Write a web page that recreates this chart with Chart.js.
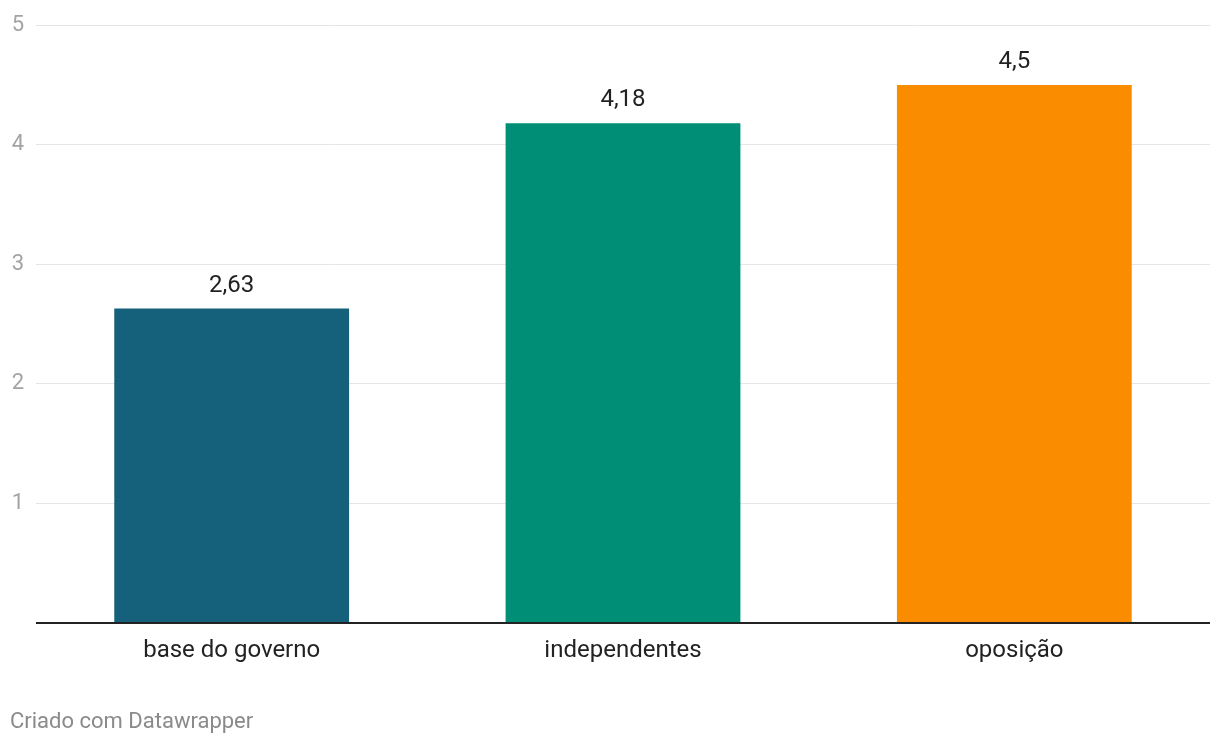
<!DOCTYPE html>
<html>
<head>
<meta charset="utf-8">
<script src="https://cdn.jsdelivr.net/npm/chart.js@4/dist/chart.umd.min.js"></script>
<style>
  html, body { margin: 0; padding: 0; background: #fff; }
  #wrap { position: relative; width: 1220px; height: 744px; }
  #footer {
    position: absolute; left: 10px; top: 708px;
    font-family: Roboto, sans-serif; font-size: 22px; color: #8a8a8a;
  }
</style>
</head>
<body>
<div id="wrap">
  <canvas id="chart" width="1220" height="744"></canvas>
  <div id="footer">Criado com Datawrapper</div>
</div>
<script>
const categories = ["base do governo", "independentes", "oposição"];
const values = [2.63, 4.18, 4.5];
const barColors = ["#15607a", "#008f76", "#fa8c00"];
const yTicks = [0, 1, 2, 3, 4, 5];

// value labels above each bar, comma decimals
const valueLabels = {
  id: "valueLabels",
  afterDatasetsDraw(chart) {
    const ctx = chart.ctx;
    const meta = chart.getDatasetMeta(0);
    ctx.save();
    ctx.font = "24px Roboto, sans-serif";
    ctx.fillStyle = "#222";
    ctx.textAlign = "center";
    ctx.textBaseline = "middle";
    meta.data.forEach((bar, i) => {
      const txt = String(values[i]).replace(".", ",");
      ctx.fillText(txt, bar.x, bar.y - 23);
    });
    ctx.restore();
  }
};

new Chart(document.getElementById("chart"), {
  type: "bar",
  data: {
    labels: categories,
    datasets: [{
      data: values,
      backgroundColor: barColors,
      categoryPercentage: 0.6,
      barPercentage: 1
    }]
  },
  options: {
    responsive: false,
    animation: false,
    layout: { padding: { top: 24, right: 10, left: 0, bottom: 0 } },
    plugins: { legend: { display: false }, tooltip: { enabled: false } },
    scales: {
      x: {
        grid: { display: false },
        border: { display: false },
        ticks: { color: "#222", font: { family: "Roboto", size: 24 }, padding: 6 },
        afterFit(scale) { scale.height = 744 - 623; }
      },
      y: {
        min: 0, max: 5,
        afterBuildTicks(scale) { scale.ticks = yTicks.map(v => ({ value: v })); },
        afterFit(scale) { scale.width = 36; },
        border: { display: false },
        grid: {
          drawTicks: false,
          color: c => c.tick.value === 0 ? "#222" : "#e5e5e5",
          lineWidth: c => c.tick.value === 0 ? 2 : 1
        },
        ticks: {
          color: "#a3a3a3",
          font: { family: "Roboto", size: 22 },
          padding: 12,
          callback: v => v === 0 ? "" : String(v)
        }
      }
    }
  },
  plugins: [valueLabels]
});
</script>
</body>
</html>
